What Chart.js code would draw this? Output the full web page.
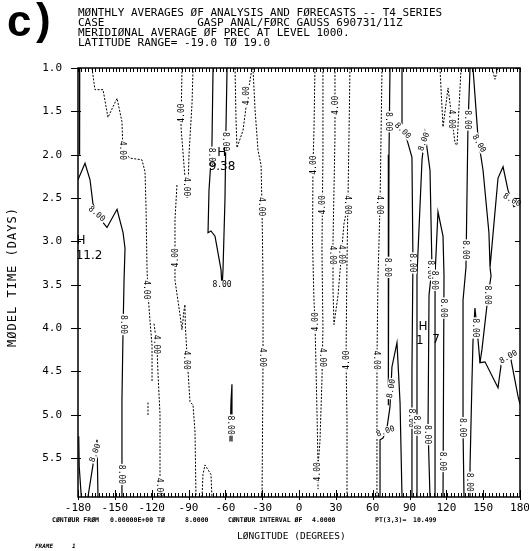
<!DOCTYPE html>
<html>
<head>
<meta charset="utf-8">
<script src="https://cdn.jsdelivr.net/npm/chart.js@4.4.1/dist/chart.umd.min.js"></script>
<style>
  html, body { margin: 0; padding: 0; background: #fff; }
</style>
</head>
<body>
<canvas id="chart" width="529" height="551"></canvas>
<script>
// axes
const lonTicks = [-180, -150, -120, -90, -60, -30, 0, 30, 60, 90, 120, 150, 180];
const timeTicks = [1.0, 1.5, 2.0, 2.5, 3.0, 3.5, 4.0, 4.5, 5.0, 5.5];
const timeRange = [1.0, 5.95];
const gridStep = 2.8125; // T42 gaussian longitudes

// 8.00 contours, [longitude, day]
const sol_edgeTop = [[-178.6, 1.0], [-178.6, 1.6], [-178.8, 2.0]];
const sol_edgeLow = [[-179.4, 5.25], [-179.0, 5.6], [-177.3, 5.95]];
const sol_w145 = [[-180, 2.29], [-174.3, 2.10], [-170.2, 2.29], [-167.8, 2.57], [-162.1, 2.74],
  [-156.4, 2.84], [-148.2, 2.63], [-143.3, 2.90], [-141.7, 3.08], [-142.5, 3.45],
  [-143.3, 4.02], [-144.2, 4.83], [-144.2, 5.95]];
const sol_w165 = [[-171.9, 5.95], [-167.8, 5.58], [-164.5, 5.29], [-163.7, 5.95]];
const sol_w65 = [[-70.0, 1.0], [-70.9, 1.89], [-73.3, 2.41], [-74.1, 2.90], [-71.7, 2.88],
  [-68.4, 2.94], [-63.5, 3.33], [-62.7, 3.54], [-61.9, 3.33], [-60.3, 2.52],
  [-59.5, 1.72], [-58.6, 1.0]];
const sol_w55 = [[-56.2, 5.31], [-55.4, 4.85], [-54.6, 4.65], [-54.6, 5.31]];
const sol_e73 = [[74.1, 1.0], [73.3, 2.0], [72.5, 3.0], [72.5, 4.0], [73.3, 4.89]];
const sol_e75 = [[66.0, 5.95], [66.0, 5.29], [68.4, 5.27], [71.7, 5.15], [74.1, 4.91],
  [75.7, 4.45], [79.8, 4.17], [82.3, 4.86], [83.9, 5.95]];
const sol_e88 = [[83.9, 1.0], [83.9, 1.68], [88.0, 1.83], [92.0, 2.03], [92.8, 3.21],
  [92.0, 4.5], [92.0, 5.95]];
const sol_e102 = [[96.1, 5.95], [96.1, 3.39], [100.2, 2.06], [102.6, 1.75], [106.7, 2.18],
  [108.3, 3.30], [105.9, 3.62], [105.1, 5.15], [106.7, 5.95]];
const sol_e114 = [[110.8, 5.95], [110.8, 3.39], [113.2, 2.66], [117.3, 2.94], [118.1, 3.39],
  [117.3, 5.95]];
const sol_e137 = [[139.3, 1.0], [137.6, 1.68], [136.0, 3.30], [133.6, 3.68], [133.6, 5.18],
  [134.4, 5.95]];
const sol_e150 = [[141.7, 1.0], [145.8, 1.80], [149.9, 2.18], [154.7, 2.90], [155.6, 3.30],
  [162.1, 2.27], [166.2, 2.14], [170.2, 2.41], [175.0, 2.60], [180, 2.56]];
const sol_e160 = [[155.6, 3.30], [156.4, 3.40], [153.9, 3.64], [149.0, 4.25], [147.4, 4.40],
  [151.5, 4.39], [162.1, 4.69], [165.3, 4.35], [171.9, 4.31], [178.4, 4.79], [180, 4.88]];
const sol_e143 = [[147.4, 4.40], [145.0, 4.0], [143.3, 3.77], [141.7, 4.16], [140.9, 4.6],
  [139.3, 5.6], [139.3, 5.95]];

// 4.00 contours
const dsh_w140 = [[-168.6, 1.0], [-166.2, 1.25], [-159.6, 1.25], [-155.6, 1.57], [-148.2, 1.35],
  [-144.2, 1.62], [-143.3, 1.97], [-137.6, 2.04], [-127.9, 2.06], [-125.4, 2.20],
  [-124.6, 2.6], [-123.8, 3.31], [-123.0, 3.6], [-121.4, 3.91], [-119.7, 4.20], [-119.7, 4.62]];
const dsh_w115 = [[-118.1, 3.95], [-115.7, 4.2], [-114.8, 4.54], [-113.2, 5.0], [-113.2, 5.95]];
const dsh_w123 = [[-123.0, 4.86], [-123.0, 5.02]];
const dsh_w90 = [[-95.3, 1.0], [-96.1, 1.68], [-92.9, 2.26], [-91.2, 2.50], [-90.4, 2.45],
  [-89.6, 2.0], [-87.1, 1.4], [-86.3, 1.0]];
const dsh_w95 = [[-99.4, 2.35], [-101.0, 2.75], [-101.0, 3.45], [-96.9, 3.85], [-95.3, 4.02],
  [-93.7, 3.80], [-92.9, 3.73], [-92.5, 4.0], [-91.2, 4.31], [-88.8, 4.85], [-86.3, 4.89],
  [-84.7, 5.2], [-83.9, 5.95]];
const dsh_w76 = [[-79.0, 5.95], [-78.2, 5.69], [-76.6, 5.58], [-71.7, 5.69], [-70.9, 5.95]];
const dsh_w45 = [[-52.1, 1.0], [-51.3, 1.6], [-50.5, 1.92], [-45.6, 1.72], [-42.4, 1.37], [-38.3, 1.0]];
const dsh_w33 = [[-37.5, 1.0], [-35.8, 1.48], [-33.4, 1.95], [-30.9, 2.12], [-30.1, 2.64],
  [-29.3, 3.45], [-29.3, 4.37], [-30.1, 5.95]];
const dsh_e13 = [[13.0, 1.0], [12.2, 1.72], [11.4, 2.12], [11.0, 3.0], [12.2, 3.68], [13.0, 3.91],
  [14.7, 5.0], [15.5, 5.6], [15.5, 5.86]];
const dsh_e19 = [[19.5, 1.0], [19.5, 2.0], [18.7, 3.1], [19.5, 4.0], [18.7, 4.6], [17.1, 5.3], [15.5, 5.6]];
const dsh_e29 = [[29.3, 1.0], [29.3, 1.8], [27.7, 3.0], [27.7, 3.55], [28.5, 3.96], [31.8, 3.62],
  [34.2, 3.21], [36.6, 2.80], [39.1, 2.62]];
const dsh_e40 = [[41.5, 1.0], [40.7, 1.8], [39.9, 2.52], [39.1, 3.21], [38.3, 4.37], [39.1, 5.06], [39.1, 5.95]];
const dsh_e65 = [[67.6, 1.0], [66.8, 1.8], [66.0, 2.58], [64.3, 3.45], [63.5, 4.37], [63.5, 5.12], [63.5, 5.95]];
const dsh_e122 = [[114.8, 1.0], [117.3, 1.68], [121.4, 1.23], [127.1, 1.87], [128.7, 1.89], [132.0, 1.0]];
const dsh_e160 = [[157.2, 1.0], [159.6, 1.13], [162.1, 1.0]];

// contour value labels, [longitude, day, angle]
const labels8 = [[-164.5, 2.68, 40], [-142.5, 3.96, 90], [-144.2, 5.69, 90], [-166.2, 5.44, -70],
  [-71.5, 2.03, 90], [-59.6, 1.85, 90], [-62.7, 3.50, 0], [-55.8, 5.12, 90],
  [73.3, 1.62, 90], [72.5, 3.30, 90], [70.4, 5.19, -20], [74.9, 4.70, -80],
  [84.7, 1.72, 45], [92.8, 3.25, 90], [92.0, 5.04, 90],
  [101.5, 1.85, -70], [107.5, 3.33, 90], [105.1, 5.23, 90], [96.1, 5.12, 90],
  [110.8, 3.45, 90], [117.8, 3.77, 90], [117.3, 5.54, 90],
  [137.6, 1.60, 90], [136.0, 3.10, 90], [133.6, 5.15, 90],
  [146.8, 1.87, 60], [173.5, 2.52, 30], [153.9, 3.62, 90], [170.4, 4.33, -30],
  [143.6, 4.0, 90], [139.3, 5.78, 90]];
const labels4 = [[-143.3, 1.95, 90], [-123.8, 3.56, 90], [-115.7, 4.19, 90], [-113.2, 5.84, 90],
  [-95.7, 1.52, -90], [-91.8, 2.37, 90], [-101.0, 3.19, -90], [-91.2, 4.37, 90],
  [-42.8, 1.32, -90], [-30.1, 2.60, 90], [-29.3, 4.34, 90],
  [11.4, 2.12, -90], [13.0, 3.93, -90], [15.3, 5.66, -90],
  [19.1, 2.58, -90], [19.0, 4.34, 90],
  [29.3, 1.43, -90], [27.7, 3.16, 90], [34.6, 3.15, 90],
  [39.9, 2.58, 90], [38.3, 4.37, -90],
  [66.0, 2.58, 90], [63.5, 4.37, 90], [124.6, 1.59, 90]];

// maxima markers: [longitude, day, text]
const highMarks = [[-62.9, 1.98, 'H'], [-62.7, 2.14, '9.38'],
  [-177.6, 3.0, 'H'], [-171.0, 3.17, '11.2'],
  [101.0, 3.99, 'H'], [98.5, 4.15, '1'], [111.6, 4.14, '7']];

const headerLines = [
  'MØNTHLY AVERAGES ØF ANALYSIS AND FØRECASTS -- T4 SERIES',
  'CASE              GASP ANAL/FØRC GAUSS 690731/11Z',
  'MERIDIØNAL AVERAGE ØF PREC AT LEVEL 1000.',
  'LATITUDE RANGE= -19.0 TØ 19.0'
];
const footerParts = [[52, 'CØNTØUR FRØM'], [110, '0.00000E+00'], [157, 'TØ'], [185, '8.0000'],
  [228, 'CØNTØUR INTERVAL ØF'], [312, '4.0000'], [375, 'PT(3,3)='], [413, '10.499']];

const solidContours = [sol_edgeTop, sol_edgeLow, sol_w145, sol_w165, sol_w65, sol_w55, sol_e73,
  sol_e75, sol_e88, sol_e102, sol_e114, sol_e137, sol_e150, sol_e160, sol_e143];
const dashedContours = [dsh_w140, dsh_w115, dsh_w123, dsh_w90, dsh_w95, dsh_w76, dsh_w45, dsh_w33,
  dsh_e13, dsh_e19, dsh_e29, dsh_e40, dsh_e65, dsh_e122, dsh_e160];

const MONO = '"DejaVu Sans Mono", monospace';
const toPts = c => c.map(([lon, t]) => ({x: lon, y: t}));

const datasets = [
  ...solidContours.map(c => ({
    data: toPts(c), showLine: true, borderColor: '#000', borderWidth: 1.2,
    pointRadius: 0, fill: false
  })),
  ...dashedContours.map(c => ({
    data: toPts(c), showLine: true, borderColor: '#000', borderWidth: 1,
    borderDash: [2, 1.5], pointRadius: 0, fill: false
  }))
];

// frame with grid-point ticks along top/bottom and day ticks on both sides
const frameTicks = {
  id: 'frameTicks',
  afterDraw(chart) {
    const {ctx, chartArea: {left, right, top, bottom}, scales: {x, y}} = chart;
    ctx.save();
    ctx.strokeStyle = '#000';
    ctx.lineWidth = 1;
    ctx.beginPath();
    for (let i = 0; i <= 128; i++) {
      const px = Math.round(x.getPixelForValue(-180 + i * gridStep)) + 0.5;
      ctx.moveTo(px, top); ctx.lineTo(px, top + 4);
      ctx.moveTo(px, bottom); ctx.lineTo(px, bottom - 4);
    }
    lonTicks.forEach(v => {
      const px = Math.round(x.getPixelForValue(v)) + 0.5;
      ctx.moveTo(px, bottom + 3); ctx.lineTo(px, bottom - 7);
    });
    timeTicks.forEach(v => {
      const py = Math.round(y.getPixelForValue(v)) + 0.5;
      ctx.moveTo(left - 7, py); ctx.lineTo(left + 3, py);
      ctx.moveTo(right, py); ctx.lineTo(right - 5, py);
    });
    ctx.stroke();
    ctx.lineWidth = 1.5;
    ctx.strokeRect(left, top, right - left, bottom - top);
    ctx.restore();
  }
};

// contour value labels sit on a white patch over the line
const contourLabels = {
  id: 'contourLabels',
  afterDatasetsDraw(chart) {
    const {ctx, scales: {x, y}} = chart;
    ctx.save();
    ctx.font = '8px ' + MONO;
    ctx.textAlign = 'center';
    ctx.textBaseline = 'middle';
    const put = (list, text) => list.forEach(([lon, t, rot]) => {
      ctx.save();
      ctx.translate(x.getPixelForValue(lon), y.getPixelForValue(t));
      ctx.rotate(rot * Math.PI / 180);
      const w = ctx.measureText(text).width;
      ctx.fillStyle = '#fff';
      ctx.fillRect(-w / 2 - 1, -4, w + 2, 8);
      ctx.fillStyle = '#000';
      ctx.fillText(text, 0, 0.5);
      ctx.restore();
    });
    put(labels8, '8.00');
    put(labels4, '4.00');

    ctx.font = '12px "DejaVu Sans"';
    highMarks.forEach(([lon, t, s]) => {
      ctx.fillText(s, x.getPixelForValue(lon), y.getPixelForValue(t));
    });
    ctx.restore();
  }
};

const pageText = {
  id: 'pageText',
  afterDraw(chart) {
    const {ctx} = chart;
    ctx.save();
    ctx.fillStyle = '#000';
    ctx.textBaseline = 'middle';
    ctx.font = 'bold 44px "Liberation Sans"';
    ctx.fillText('c', 7, 24);
    ctx.fillText(')', 36, 22);

    ctx.font = '11px ' + MONO;
    headerLines.forEach((s, i) => ctx.fillText(s, 78, 13 + i * 10));

    ctx.font = 'bold 6.5px ' + MONO;
    footerParts.forEach(([px, s]) => ctx.fillText(s, px, 520));

    ctx.font = '9.5px ' + MONO;
    ctx.fillText('LØNGITUDE (DEGREES)', 237, 537);

    ctx.font = 'italic bold 6px ' + MONO;
    ctx.fillText('FRAME', 35, 546);
    ctx.fillText('1', 72, 546);

    ctx.save();
    ctx.translate(13, 277);
    ctx.rotate(-Math.PI / 2);
    ctx.textAlign = 'center';
    ctx.font = '12px ' + MONO;
    ctx.letterSpacing = '1px';
    ctx.fillText('MØDEL TIME (DAYS)', 0, 0);
    ctx.restore();
    ctx.restore();
  }
};

const config = {
  type: 'scatter',
  data: {datasets},
  options: {
    responsive: false,
    devicePixelRatio: 1,
    animation: false,
    events: [],
    layout: {padding: {top: 68, right: 9, bottom: 0, left: 0}},
    plugins: {legend: {display: false}, tooltip: {enabled: false}},
    scales: {
      x: {
        type: 'linear', min: -180, max: 180,
        grid: {display: false, drawTicks: false}, border: {display: false},
        afterBuildTicks: s => { s.ticks = lonTicks.map(v => ({value: v})); },
        afterFit: s => { s.height = 54; s.paddingLeft = 0; s.paddingRight = 0; },
        ticks: {
          color: '#000', padding: 5, maxRotation: 0, autoSkip: false,
          font: {family: MONO, size: 11},
          callback: v => String(v)
        }
      },
      y: {
        type: 'linear', reverse: true, min: timeRange[0], max: timeRange[1],
        grid: {display: false, drawTicks: false}, border: {display: false},
        afterBuildTicks: s => { s.ticks = timeTicks.map(v => ({value: v})); },
        afterFit: s => { s.width = 78; s.paddingTop = 0; s.paddingBottom = 0; },
        ticks: {
          color: '#000', padding: 16, autoSkip: false,
          font: {family: MONO, size: 11},
          callback: v => Number(v).toFixed(1)
        }
      }
    }
  },
  plugins: [contourLabels, frameTicks, pageText]
};

const myChart = new Chart(document.getElementById('chart'), config);
</script>
</body>
</html>
